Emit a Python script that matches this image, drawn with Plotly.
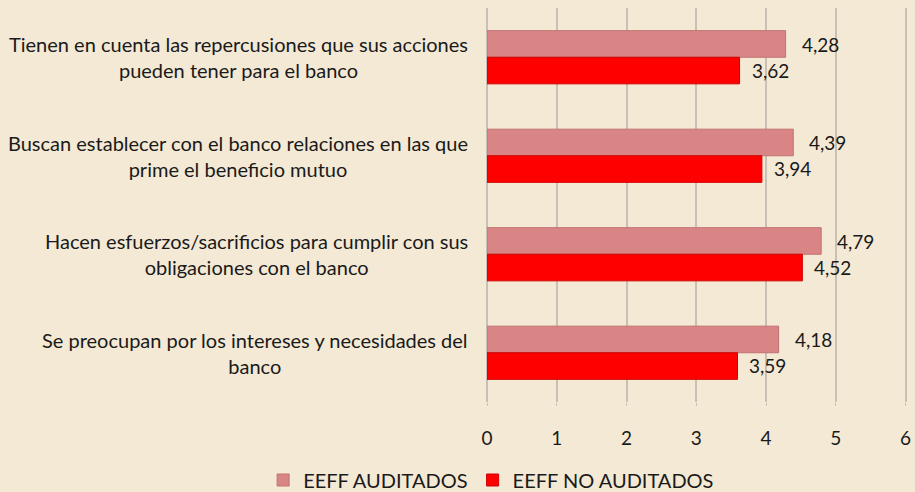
import plotly.graph_objects as go

categories = [
    "Tienen en cuenta las repercusiones que sus acciones<br>pueden tener para el banco",
    "Buscan establecer con el banco relaciones en las que<br>prime el beneficio mutuo",
    "Hacen esfuerzos/sacrificios para cumplir con sus<br>obligaciones con el banco",
    "Se preocupan por los intereses y necesidades del<br>banco",
]
auditados = [4.28, 4.39, 4.79, 4.18]
no_auditados = [3.62, 3.94, 4.52, 3.59]
x_ticks = [0, 1, 2, 3, 4, 5, 6]

cat_ids = list(range(len(categories)))
BG = "#F3E9D5"
FONT = "Lato, 'Open Sans', sans-serif"
TXT = "#1a1a1a"

fig = go.Figure()
fig.add_trace(go.Bar(
    y=cat_ids, x=auditados, orientation="h", name="EEFF AUDITADOS",
    marker=dict(color="#D98585", line=dict(color="#C27272", width=1)),
    offsetgroup="a",
))
fig.add_trace(go.Bar(
    y=cat_ids, x=no_auditados, orientation="h", name="EEFF NO AUDITADOS",
    marker=dict(color="#FF0000", line=dict(color="#D00000", width=1)),
    offsetgroup="b",
))

annotations = []
for i, (a, b) in enumerate(zip(auditados, no_auditados)):
    annotations.append(dict(x=a, y=i - 0.13, xref="x", yref="y", text=f"{a:.2f}".replace(".", ","),
                            showarrow=False, xanchor="left", xshift=14,
                            font=dict(size=19, color=TXT, family=FONT)))
    annotations.append(dict(x=b, y=i + 0.13, xref="x", yref="y", text=f"{b:.2f}".replace(".", ","),
                            showarrow=False, xanchor="left", xshift=10,
                            font=dict(size=19, color=TXT, family=FONT)))
for i, c in enumerate(categories):
    annotations.append(dict(x=-0.04, y=i, xref="paper", yref="y", text=c, showarrow=False,
                            xanchor="right", yanchor="middle", align="center",
                            font=dict(size=20, color=TXT, family=FONT)))

fig.update_layout(
    width=915, height=492,
    paper_bgcolor=BG, plot_bgcolor=BG,
    margin=dict(l=487, r=8, t=8, b=90, autoexpand=False),
    barmode="group", bargap=0.46, bargroupgap=0.0,
    font=dict(family=FONT, size=19, color=TXT),
    xaxis=dict(range=[0, 6.02], tickvals=x_ticks, ticktext=[str(t) for t in x_ticks],
               showgrid=True, gridcolor="#C6C1B4", gridwidth=2, zeroline=True,
               zerolinecolor="#C6C1B4", zerolinewidth=2, showline=False,
               ticks="outside", ticklen=3, tickcolor="#C6C1B4", tickfont=dict(size=19),
               ticklabelstandoff=16, fixedrange=True),
    yaxis=dict(tickvals=cat_ids, showticklabels=False, autorange=False,
               range=[3.5, -0.5], showgrid=False, zeroline=False, showline=False,
               fixedrange=True),
    legend=dict(orientation="h", x=-0.533, xanchor="left", y=-0.198, yanchor="middle",
                font=dict(size=20, family=FONT), traceorder="normal",
                bgcolor="rgba(0,0,0,0)"),
    annotations=annotations,
    showlegend=True,
)

fig.write_html("out.html", post_script="document.body.style.margin='0';",
               config={"displayModeBar": False})
